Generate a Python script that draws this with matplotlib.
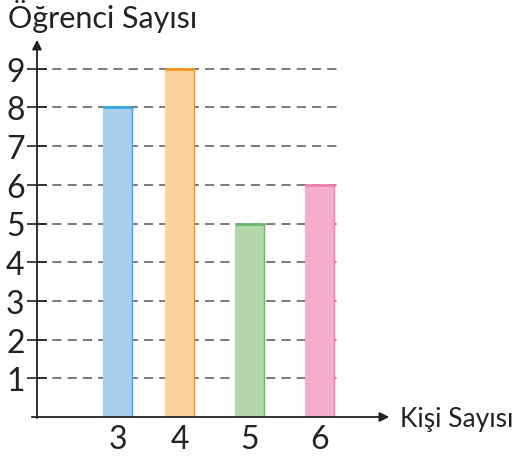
import matplotlib
matplotlib.use('Agg')
import matplotlib.pyplot as plt

plt.rcParams['font.family'] = ['Lato', 'DejaVu Sans']

kisi = ['3', '4', '5', '6']
ogrenci = [8, 9, 5, 6]
fills = ['#a9cfee', '#fdd09c', '#b3d7aa', '#f4adcd']
edges = ['#36a8e0', '#f7931e', '#6cb86a', '#ee7fb0']
pos = [118, 180, 250, 320]  # bar centres (layout)

W, H = 514, 460
fig = plt.figure(figsize=(W / 100, H / 100), dpi=100)
x0, x1, ytop, ybot = 37, 392, 38, 418
ax = fig.add_axes([x0 / W, (H - ybot) / H, (x1 - x0) / W, (ybot - ytop) / H])
unit = 38.7
ax.set_xlim(x0, x1)
ax.set_ylim(0, (ybot - ytop) / unit)

bw = 30
for p, v, f, e in zip(pos, ogrenci, fills, edges):
    ax.bar(p, v, width=bw, color=f, zorder=2)
    ax.hlines(v, p - bw / 2, p + bw / 2, color=e, lw=2, zorder=3)
    ax.vlines(p + bw / 2 - 1, 0, v, color=e, lw=1, zorder=3)

for k in range(1, 10):
    ax.hlines(k, x0, 337, color='#555555', lw=1.1, linestyles=(0, (6, 4)), zorder=1)

for s in ['top', 'right', 'left', 'bottom']:
    ax.spines[s].set_visible(False)
ax.annotate('', xy=(x1, 0), xytext=(x0 - 8, 0), xycoords='data',
            arrowprops=dict(arrowstyle='-|>', color='#222222', lw=1.3, mutation_scale=14),
            annotation_clip=False)
ax.annotate('', xy=(x0, (ybot - ytop) / unit), xytext=(x0, -0.1), xycoords='data',
            arrowprops=dict(arrowstyle='-|>', color='#222222', lw=1.3, mutation_scale=14),
            annotation_clip=False)

ax.set_yticks(range(1, 10))
ax.set_yticklabels([str(k) for k in range(1, 10)], fontsize=23, color='#222222')
ax.tick_params(axis='y', direction='inout', length=14, width=1.2, color='#222222', pad=2)
ax.set_xticks(pos)
ax.set_xticklabels(kisi, fontsize=23, color='#222222')
ax.tick_params(axis='x', length=0, pad=5)

fig.text(8 / W, 1 - 28 / H, 'Öğrenci Sayısı', fontsize=22, color='#222222', va='baseline', ha='left')
fig.text(400 / W, 1 - 427 / H, 'Kişi Sayısı', fontsize=19, color='#222222', va='baseline', ha='left')

fig.savefig('out.png', dpi=100)
